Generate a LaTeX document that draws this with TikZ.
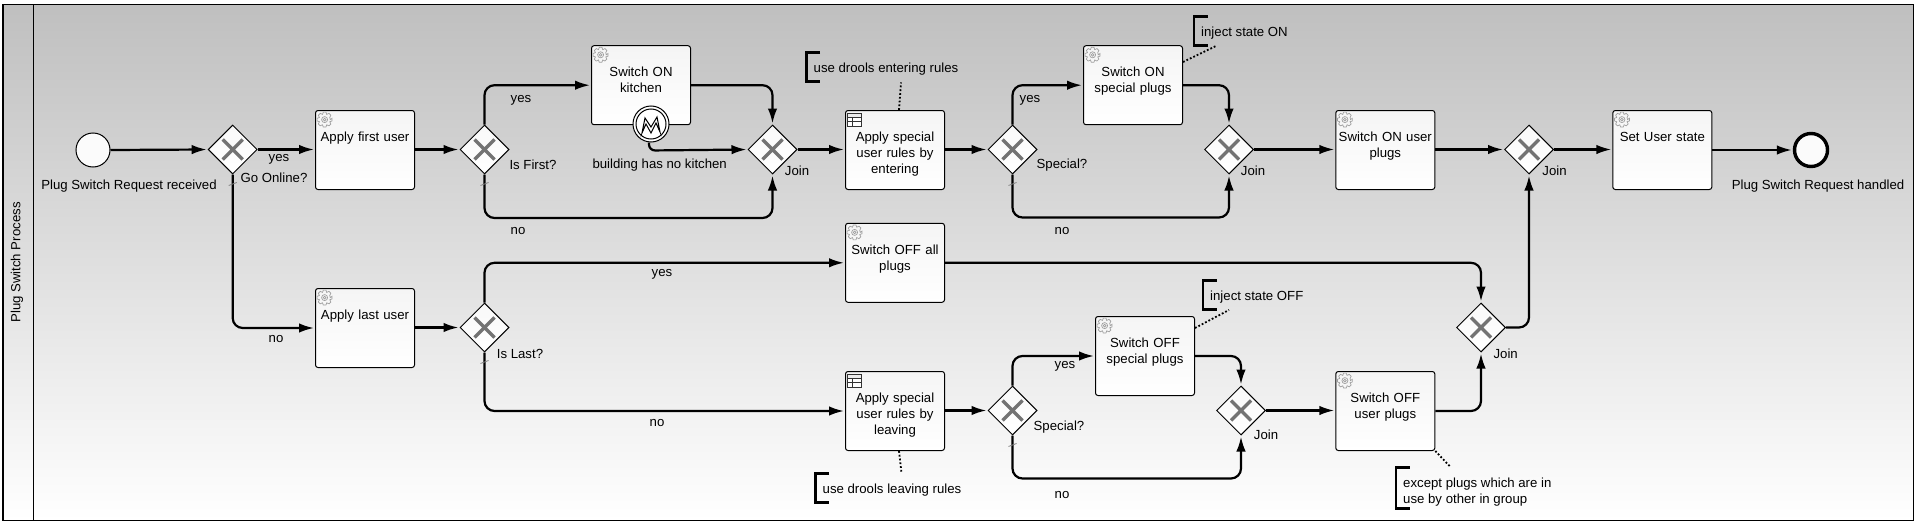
\documentclass[tikz,border=0pt]{standalone}
\usepackage{fontspec}
\setmainfont{Liberation Sans}
\usetikzlibrary{calc,shapes.geometric,arrows.meta}

\newcommand{\gearicon}{
    \draw[gray!75, line width=.7pt] (0:5.6) \foreach \a in {0,45,...,315} {-- (\a-10:7.6) -- (\a+10:7.6) -- (\a+22.5:5.6)} -- cycle;
    \draw[gray!75, line width=.7pt] (0,0) circle (3);
    \draw[gray!75, line width=.7pt] (0,0) circle (1.4);
}
\newcommand{\tableicon}{
    \draw[gray!40!black, line width=.8pt, fill=gray!15] (-7,-6.5) rectangle (7,-2.5);
    \draw[gray!40!black, line width=.8pt, fill=white] (-7,-2.5) rectangle (7,6.5);
    \draw[gray!40!black, line width=.8pt] (-7,2) -- (7,2) (-2.5,-2.5) -- (-2.5,6.5);
}

\tikzset{
    flow/.style={draw, -{Latex[length=15pt,width=9.5pt]}, line width=2.2pt, rounded corners=10pt, shorten >=1pt},
    task/.style={draw, line width=1pt, rounded corners=2.5pt, top color=gray!8, bottom color=white,
        text width=97pt, align=center, inner sep=1pt, text height=30pt, text depth=47pt},
    gateway/.style={draw, diamond, aspect=1, line width=1pt, inner sep=0pt, minimum width=49pt, minimum height=49pt,
        top color=gray!5, bottom color=white, path picture={
        \draw[line width=3.3pt, black!55]
            ($(path picture bounding box.center)+(-10,-10)$) -- ($(path picture bounding box.center)+(10,10)$)
            ($(path picture bounding box.center)+(-10,10)$) -- ($(path picture bounding box.center)+(10,-10)$);}},
    startevent/.style={draw, circle, line width=1pt, minimum size=34pt, inner sep=0pt, fill=gray!3},
    endevent/.style={draw, circle, line width=3.4pt, minimum size=33pt, inner sep=0pt, fill=gray!3},
    errorevent/.style={draw, circle, line width=1pt, minimum size=36pt, inner sep=0pt, fill=white, path picture={
        \begin{scope}[shift={(path picture bounding box.center)}]
            \draw[line width=1pt] (0,0) circle (15);
            \draw[line width=1pt] (-9,9) -- (-6,-6) -- (0,3) -- (6,-7) -- (9,8) -- (5,-1) -- (0,9) -- (-5,0) -- cycle;
        \end{scope}}},
    lbl/.style={inner sep=0pt},
    note/.style={anchor=west, inner sep=0pt, inner xsep=7pt, align=left, minimum height=28.5pt, text height=12pt, text depth=1pt},
    bracket/.style={draw, line width=2.2pt},
    assoc/.style={draw, line width=1.8pt, dotted},
    slash/.style={draw, line width=.8pt, gray},
}

\begin{document}
\begin{tikzpicture}[x=1pt, y=-1pt, every node/.append style={font=\fontsize{13.2}{16}\selectfont}]
    \useasboundingbox (0,0) rectangle (1915,522);
    % pool
    \shade[top color=gray!50, bottom color=white] (3,4.5) rectangle (1913.5,520.5);
    \draw[line width=1.1pt] (3,4.5) rectangle (1913.5,520.5);
    \draw[line width=1.1pt] (33.5,4.5) -- (33.5,520.5);
    \node[lbl, rotate=90] at (17,262.5) (pool) {Plug Switch Process};

    % upper row
    \node[startevent] at (93,150) (start) {};
    \node[gateway] at (232.7,149.5) (online) {};
    \node[task] at (365,150) (firstuser) {Apply first user};
    \node[gateway] at (484.5,149.5) (isfirst) {};
    \node[task] at (641,85.2) (kitchen) {Switch ON\\kitchen};
    \node[errorevent] at (651,124) (nokitchen) {};
    \node[gateway] at (772.5,149.5) (joina) {};
    \node[task] at (895,150) (rulesenter) {Apply special\\user rules by\\entering};
    \node[gateway] at (1012.5,149.5) (specialon) {};
    \node[task] at (1133,85.2) (plugson) {Switch ON\\special plugs};
    \node[gateway] at (1229,149.5) (joinb) {};
    \node[task] at (1385.3,150) (useron) {Switch ON user\\plugs};
    \node[gateway] at (1529,149.5) (joinc) {};
    \node[task] at (1662.3,150) (userstate) {Set User state};
    \node[endevent] at (1811,150) (finish) {};

    % lower rows
    \node[task] at (365,328) (lastuser) {Apply last user};
    \node[gateway] at (484.5,327.5) (islast) {};
    \node[task] at (895,262.8) (alloff) {Switch OFF all\\plugs};
    \node[task] at (895,411) (rulesleave) {Apply special\\user rules by\\leaving};
    \node[gateway] at (1012.5,410.5) (specialoff) {};
    \node[task] at (1145,356) (plugsoff) {Switch OFF\\special plugs};
    \node[gateway] at (1241,410.5) (joind) {};
    \node[task] at (1385.3,411) (useroff) {Switch OFF\\user plugs};
    \node[gateway] at (1481,327.5) (joine) {};

    % task icons
    \foreach \t in {firstuser,kitchen,plugson,useron,userstate,lastuser,alloff,plugsoff,useroff} {
        \begin{scope}[shift={($(\t.north west)+(9.6,9.6)$)}]\gearicon\end{scope}
    }
    \foreach \t in {rulesenter,rulesleave} {
        \begin{scope}[shift={($(\t.north west)+(9.6,9.6)$)}]\tableicon\end{scope}
    }

    % flows
    \draw[flow] (start.east) -- (online.west);
    \draw[flow] (online.east) -- (firstuser.west |- online.east);
    \draw[flow] (online.south) |- (lastuser.west);
    \draw[flow] (firstuser.east |- isfirst.west) -- (isfirst.west);
    \draw[flow] (isfirst.north) |- (kitchen.west);
    \draw[flow] (isfirst.south) -- ($(isfirst.south)+(0,43.5)$) -| (joina.south);
    \draw[flow] (kitchen.east) -| (joina.north);
    \draw[flow, rounded corners=6pt] ($(nokitchen.south)+(-2,0)$) -- ($(nokitchen.south)+(-2,8)$) -- (joina.west);
    \draw[flow] (joina.east) -- (rulesenter.west |- joina.east);
    \draw[flow] (rulesenter.east |- specialon.west) -- (specialon.west);
    \draw[flow] (specialon.north) |- (plugson.west);
    \draw[flow] (specialon.south) -- ($(specialon.south)+(0,43)$) -| (joinb.south);
    \draw[flow] (plugson.east) -| (joinb.north);
    \draw[flow] (joinb.east) -- (useron.west |- joinb.east);
    \draw[flow] (useron.east |- joinc.west) -- (joinc.west);
    \draw[flow] (joinc.east) -- (userstate.west |- joinc.east);
    \draw[flow] (userstate.east) -- (finish.west);
    \draw[flow] (lastuser.east |- islast.west) -- (islast.west);
    \draw[flow] (islast.north) |- (alloff.west);
    \draw[flow] (islast.south) |- (rulesleave.west);
    \draw[flow] (alloff.east) -| (joine.north);
    \draw[flow] (rulesleave.east |- specialoff.west) -- (specialoff.west);
    \draw[flow] (specialoff.north) |- (plugsoff.west);
    \draw[flow] (specialoff.south) -- ($(specialoff.south)+(0,43)$) -| (joind.south);
    \draw[flow] (plugsoff.east) -| (joind.north);
    \draw[flow] (joind.east) -- (useroff.west |- joind.east);
    \draw[flow] (useroff.east) -| (joine.south);
    \draw[flow] (joine.east) -| (joinc.south);
    \foreach \g in {online,isfirst,islast,specialon,specialoff} {
        \draw[slash] ($(\g.south)+(-4,11)$) -- ($(\g.south)+(4,8)$);
    }

    % labels
    \node[lbl] at (129,186) (startlbl) {Plug Switch Request received};
    \node[lbl] at (279,159) (yesa) {yes};
    \node[lbl] at (274,177.7) (onlinelbl) {Go Online?};
    \node[lbl] at (276,339) (noa) {no};
    \node[lbl] at (521,100) (yesb) {yes};
    \node[lbl] at (533,165) (isfirstlbl) {Is First?};
    \node[lbl] at (518,231) (nob) {no};
    \node[lbl] at (659.7,165.5) (nokitchenlbl) {building has no kitchen};
    \node[lbl] at (797,170.7) (joinalbl) {Join};
    \node[lbl] at (1030,100) (yesc) {yes};
    \node[lbl] at (1062,165) (specialonlbl) {Special?};
    \node[lbl] at (1062,231) (noc) {no};
    \node[lbl] at (1253,170.7) (joinblbl) {Join};
    \node[lbl] at (1554.5,170.7) (joinclbl) {Join};
    \node[lbl] at (1818,186) (finishlbl) {Plug Switch Request handled};
    \node[lbl] at (520,353.7) (islastlbl) {Is Last?};
    \node[lbl] at (662,274) (yesd) {yes};
    \node[lbl] at (657,423) (nod) {no};
    \node[lbl] at (1065,366) (yese) {yes};
    \node[lbl] at (1059,426.7) (specialofflbl) {Special?};
    \node[lbl] at (1062,495) (noe) {no};
    \node[lbl] at (1266,434.7) (joindlbl) {Join};
    \node[lbl] at (1505.7,353.7) (joinelbl) {Join};

    % annotations
    \node[note] at (806.5,67) (noteenter) {use drools entering rules};
    \node[note] at (1194,31) (noteon) {inject state ON};
    \node[note] at (1203,295) (noteoff) {inject state OFF};
    \node[note] at (815.5,488) (noteleave) {use drools leaving rules};
    \node[note, minimum height=40.6pt, text height=32pt] at (1396,488) (noteplugs) {except plugs which are in\\use by other in group};
    \foreach \n in {noteenter,noteon,noteoff,noteleave,noteplugs} {
        \draw[bracket] ($(\n.north west)+(13.5,0)$) -- (\n.north west) -- (\n.south west) -- ($(\n.south west)+(13.5,0)$);
    }
    \draw[assoc] ($(rulesenter.north)+(4,0)$) -- ($(noteenter.south west)+(94.5,1)$);
    \draw[assoc] (plugson.east |- 0,62) -- ($(noteon.south west)+(22,0.5)$);
    \draw[assoc] (plugsoff.east |- 0,328) -- ($(noteoff.south west)+(26,0.5)$);
    \draw[assoc] ($(rulesleave.south)+(4,0)$) -- ($(noteleave.north west)+(86,-0.5)$);
    \draw[assoc] (useroff.south east) -- ($(noteplugs.north west)+(54,-1)$);
\end{tikzpicture}
\end{document}
